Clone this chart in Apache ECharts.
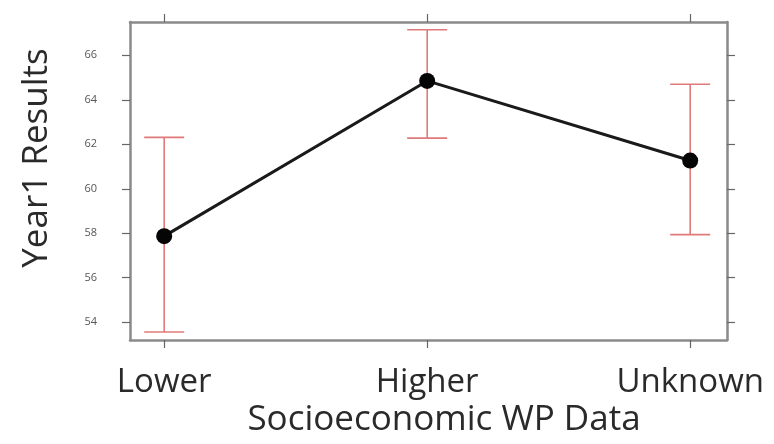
<!DOCTYPE html>
<html>
<head>
<meta charset="utf-8">
<script src="https://cdn.jsdelivr.net/npm/echarts@6/dist/echarts.min.js"></script>
<style>
  html, body { margin: 0; padding: 0; background: #fff; }
  #chart { width: 774px; height: 444px; }
</style>
</head>
<body>
<div id="chart"></div>
<script>
// Group means with their confidence limits
const categories = ['Lower', 'Higher', 'Unknown'];
const means = [57.87, 64.85, 61.27];
const lowerLimits = [53.56, 62.28, 57.94];
const upperLimits = [62.31, 67.15, 64.7];
const yTicks = [54, 56, 58, 60, 62, 64, 66];
const xTitle = 'Socioeconomic WP Data';
const yTitle = 'Year1 Results';
const xPositions = categories.map((_, i) => i);

const FONT = '"Open Sans", Lato, sans-serif';
const TEXT = '#2a2a2a';
const boxLine = { show: true, onZero: false, lineStyle: { color: '#8a8a8a', width: 2.5 } };
const tickStyle = { show: true, inside: false, length: 8, lineStyle: { color: '#666', width: 1.2 } };

const chart = echarts.init(document.getElementById('chart'), null, { renderer: 'canvas' });

const xCommon = {
  type: 'value', min: -0.13, max: 2.14,
  splitLine: { show: false },
  axisLine: boxLine
};
const yCommon = {
  type: 'value', min: 53.2, max: 67.5,
  splitLine: { show: false },
  axisLine: boxLine
};

chart.setOption({
  animation: false,
  backgroundColor: '#fff',
  grid: { left: 130, right: 47, top: 22, bottom: 104 },
  xAxis: [
    Object.assign({}, xCommon, {
      position: 'bottom',
      axisTick: Object.assign({}, tickStyle, { customValues: xPositions }),
      axisLabel: {
        customValues: xPositions,
        formatter: v => categories[Math.round(v)] || '',
        color: TEXT, fontFamily: FONT, fontSize: 33, margin: 26
      }
    }),
    Object.assign({}, xCommon, {
      position: 'top',
      axisTick: Object.assign({}, tickStyle, { customValues: xPositions }),
      axisLabel: { show: false }
    })
  ],
  yAxis: [
    Object.assign({}, yCommon, {
      position: 'left',
      axisTick: Object.assign({}, tickStyle, { customValues: yTicks }),
      axisLabel: {
        customValues: yTicks,
        color: '#555', fontFamily: FONT, fontSize: 11, margin: 33
      }
    }),
    Object.assign({}, yCommon, {
      position: 'right',
      axisTick: Object.assign({}, tickStyle, { customValues: yTicks }),
      axisLabel: { show: false }
    })
  ],
  graphic: [
    {
      type: 'text', x: 37, y: 158, rotation: Math.PI / 2,
      style: { text: yTitle, fill: TEXT, font: '35px ' + FONT, align: 'center', verticalAlign: 'middle' }
    },
    {
      type: 'text', x: 444, y: 420,
      style: { text: xTitle, fill: TEXT, font: '35px ' + FONT, align: 'center', verticalAlign: 'middle' }
    }
  ],
  series: [
    {
      type: 'custom',
      xAxisIndex: 0, yAxisIndex: 0,
      data: xPositions.map((x, i) => [x, lowerLimits[i], upperLimits[i]]),
      renderItem: function (params, api) {
        const x = api.value(0);
        const lo = api.coord([x, api.value(1)]);
        const hi = api.coord([x, api.value(2)]);
        const half = 20;
        const style = { stroke: '#e07a7a', lineWidth: 1.6 };
        return {
          type: 'group',
          children: [
            { type: 'line', shape: { x1: lo[0], y1: lo[1], x2: hi[0], y2: hi[1] }, style },
            { type: 'line', shape: { x1: hi[0] - half, y1: hi[1], x2: hi[0] + half, y2: hi[1] }, style },
            { type: 'line', shape: { x1: lo[0] - half, y1: lo[1], x2: lo[0] + half, y2: lo[1] }, style }
          ]
        };
      },
      z: 2
    },
    {
      type: 'line',
      xAxisIndex: 0, yAxisIndex: 0,
      data: xPositions.map((x, i) => [x, means[i]]),
      symbol: 'circle',
      symbolSize: 16,
      itemStyle: { color: '#050505' },
      lineStyle: { color: '#1a1a1a', width: 3 },
      z: 3
    }
  ]
});
</script>
</body>
</html>
